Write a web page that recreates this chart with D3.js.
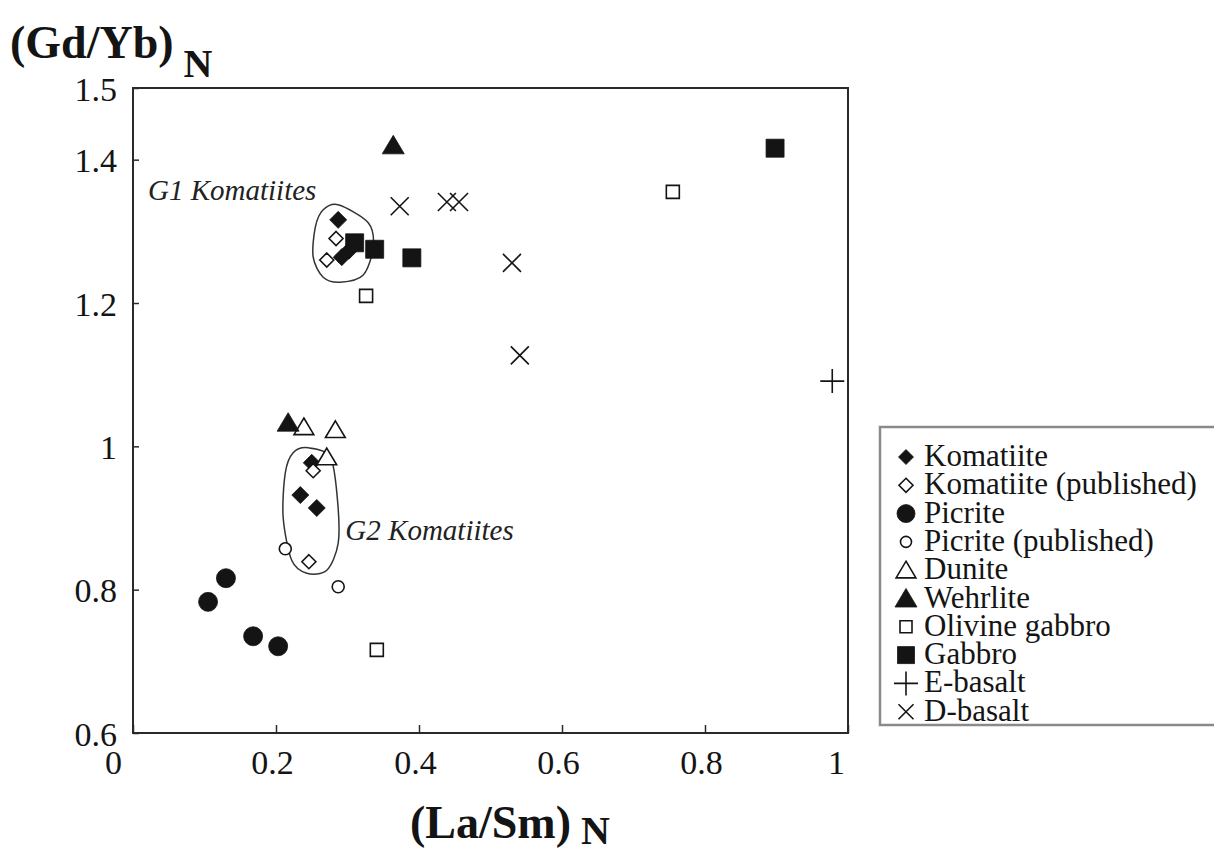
<!DOCTYPE html>
<html>
<head>
<meta charset="utf-8">
<script src="https://cdn.jsdelivr.net/npm/d3@7/dist/d3.min.js"></script>
<style>
  html, body { margin: 0; padding: 0; background: #fff; }
  svg { display: block; }
</style>
</head>
<body>
<svg id="chart" width="1214" height="855"></svg>
<script>
// ---------------- data ----------------
const xTicks = [0, 0.2, 0.4, 0.6, 0.8, 1];
const xTickLabels = ["0", "0.2", "0.4", "0.6", "0.8", "1"];
const yTicks = [0.6, 0.8, 1, 1.2, 1.4, 1.5];
const yTickLabels = ["0.6", "0.8", "1", "1.2", "1.4", "1.5"];

const komatiite = [[0.287, 1.316], [0.292, 1.264], [0.302, 1.273], [0.250, 0.977], [0.234, 0.932], [0.257, 0.914]];
const komatiitePub = [[0.284, 1.290], [0.271, 1.260], [0.252, 0.966], [0.246, 0.839]];
const picrite = [[0.130, 0.816], [0.105, 0.783], [0.168, 0.735], [0.203, 0.721]];
const picritePub = [[0.213, 0.857], [0.287, 0.804]];
const dunite = [[0.239, 1.027], [0.283, 1.023], [0.271, 0.985]];
const wehrlite = [[0.217, 1.033], [0.364, 1.420]];
const olivineGabbro = [[0.326, 1.210], [0.341, 0.716], [0.755, 1.355]];
const gabbro = [[0.310, 1.284], [0.338, 1.275], [0.390, 1.263], [0.898, 1.416]];
const eBasalt = [[0.978, 1.091]];
const dBasalt = [[0.373, 1.335], [0.439, 1.341], [0.456, 1.341], [0.530, 1.256], [0.541, 1.127]];

// hand-drawn outlines of the two komatiite groups (data coordinates)
const g1Outline = [[0.287, 1.337], [0.329, 1.312], [0.336, 1.278], [0.322, 1.239], [0.290, 1.229],
                   [0.266, 1.236], [0.252, 1.264], [0.255, 1.306], [0.266, 1.330]];
const g2Outline = [[0.245, 0.998], [0.276, 0.985], [0.286, 0.925], [0.287, 0.865], [0.271, 0.827],
                   [0.243, 0.823], [0.222, 0.841], [0.210, 0.901], [0.213, 0.963], [0.224, 0.991]];
const groupLabels = ["G1 Komatiites", "G2 Komatiites"];
const groupLabelAnchors = [[0.021, 1.344], [0.297, 0.869]];

const seriesNames = ["Komatiite", "Komatiite (published)", "Picrite", "Picrite (published)", "Dunite",
                     "Wehrlite", "Olivine gabbro", "Gabbro", "E-basalt", "D-basalt"];

// ---------------- layout ----------------
const plot = { left: 133, right: 848, top: 88, bottom: 733 };
const SERIF = '"Liberation Serif", Tinos, "Times New Roman", serif';

const x = d3.scaleLinear().domain([0, 1]).range([plot.left, plot.right]);
const y = d3.scaleLinear().domain([0.6, 1.5]).range([plot.bottom, plot.top]);

const svg = d3.select("#chart");
const ink = "#141414";

const series = [
  { name: seriesNames[0], data: komatiite,     shape: "diamond",  filled: true,  r: 8.5, lr: 7.5 },
  { name: seriesNames[1], data: komatiitePub,  shape: "diamond",  filled: false, r: 7,   lr: 7 },
  { name: seriesNames[2], data: picrite,       shape: "circle",   filled: true,  r: 9.5, lr: 9 },
  { name: seriesNames[3], data: picritePub,    shape: "circle",   filled: false, r: 6,   lr: 5.5 },
  { name: seriesNames[4], data: dunite,        shape: "triangle", filled: false, r: 9,   lr: 9 },
  { name: seriesNames[5], data: wehrlite,      shape: "triangle", filled: true,  r: 10,  lr: 10 },
  { name: seriesNames[6], data: olivineGabbro, shape: "square",   filled: false, r: 6.5, lr: 6 },
  { name: seriesNames[7], data: gabbro,        shape: "square",   filled: true,  r: 9,   lr: 8.5 },
  { name: seriesNames[8], data: eBasalt,       shape: "plus",     filled: false, r: 12,  lr: 12 },
  { name: seriesNames[9], data: dBasalt,       shape: "cross",    filled: false, r: 9,   lr: 7.5 }
];

function shapePath(shape, s) {
  switch (shape) {
    case "diamond":  return `M0,${-s}L${s},0L0,${s}L${-s},0Z`;
    case "circle":   return `M${s},0A${s},${s} 0 1 1 ${-s},0A${s},${s} 0 1 1 ${s},0Z`;
    case "triangle": return `M0,${-s}L${s * 1.1},${s * 0.85}L${-s * 1.1},${s * 0.85}Z`;
    case "square":   return `M${-s},${-s}H${s}V${s}H${-s}Z`;
    case "plus":     return `M${-s},0H${s}M0,${-s}V${s}`;
    case "cross":    return `M${-s},${-s}L${s},${s}M${s},${-s}L${-s},${s}`;
  }
}
function styleMark(sel, d) {
  sel.attr("fill", d.filled ? ink : (d.shape === "plus" || d.shape === "cross" ? "none" : "#fff"))
     .attr("stroke", ink)
     .attr("stroke-width", d.filled ? 0.8 : 1.6)
     .attr("stroke-linejoin", "miter");
}
function serif(sel, size) {
  return sel.style("font-family", SERIF).style("font-size", size + "px").style("fill", ink);
}

// ---------------- frame and axes ----------------
svg.append("rect")
  .attr("x", plot.left).attr("y", plot.top)
  .attr("width", plot.right - plot.left).attr("height", plot.bottom - plot.top)
  .attr("fill", "none").attr("stroke", "#2a2a2a").attr("stroke-width", 2);

const xAxis = d3.axisBottom(x).tickValues(xTicks).tickSize(-8).tickFormat((d, i) => xTickLabels[i]);
const gx = svg.append("g").attr("transform", `translate(0,${plot.bottom})`).call(xAxis);
gx.select(".domain").remove();
gx.selectAll(".tick line").attr("stroke", "#2a2a2a").attr("stroke-width", 1.5);
gx.selectAll(".tick text")
  .call(serif, 34)
  .attr("y", 17).attr("dy", "0.71em")
  .attr("dx", (d, i) => (i === 0 ? -20 : i === xTicks.length - 1 ? -12 : -4));

const yAxis = d3.axisLeft(y).tickValues(yTicks).tickSize(-6).tickFormat((d, i) => yTickLabels[i]);
const gy = svg.append("g").attr("transform", `translate(${plot.left},0)`).call(yAxis);
gy.select(".domain").remove();
gy.selectAll(".tick line").attr("stroke", "#2a2a2a").attr("stroke-width", 1.5);
gy.selectAll(".tick text")
  .call(serif, 34)
  .attr("x", -16).attr("dy", "0.36em");

// axis titles
const yTitle = svg.append("text").attr("x", 10).attr("y", 58)
  .call(serif, 46).style("font-weight", "bold");
yTitle.append("tspan").text("(Gd/Yb)");
yTitle.append("tspan").attr("dx", 10).attr("dy", 19).style("font-size", "40px").text("N");

const xTitle = svg.append("text").attr("x", 410).attr("y", 838)
  .call(serif, 46).style("font-weight", "bold");
xTitle.append("tspan").text("(La/Sm)");
xTitle.append("tspan").attr("dx", 10).attr("dy", 6).style("font-size", "40px").text("N");

// ---------------- group outlines ----------------
const outline = d3.line().x(d => x(d[0])).y(d => y(d[1])).curve(d3.curveCardinalClosed.tension(0.1));
[g1Outline, g2Outline].forEach(o => {
  svg.append("path").attr("d", outline(o))
    .attr("fill", "none").attr("stroke", "#333").attr("stroke-width", 1.5);
});
groupLabels.forEach((t, i) => {
  svg.append("text")
    .attr("x", x(groupLabelAnchors[i][0])).attr("y", y(groupLabelAnchors[i][1]))
    .call(serif, 29).style("font-style", "italic").style("fill", "#222").text(t);
});

// ---------------- points ----------------
series.forEach(s => {
  svg.append("g").selectAll("path").data(s.data).join("path")
    .attr("transform", d => `translate(${x(d[0])},${y(d[1])})`)
    .attr("d", shapePath(s.shape, s.r))
    .call(sel => styleMark(sel, s));
});

// ---------------- legend ----------------
const leg = { x: 880, y: 427, w: 345, h: 298, first: 457, step: 28.3, symX: 906, textX: 924 };
svg.append("rect").attr("x", leg.x).attr("y", leg.y).attr("width", leg.w).attr("height", leg.h)
  .attr("fill", "#fff").attr("stroke", "#8a8a8a").attr("stroke-width", 2.5);
const items = svg.append("g").selectAll("g").data(series).join("g")
  .attr("transform", (d, i) => `translate(0,${leg.first + i * leg.step})`);
items.append("path")
  .attr("transform", `translate(${leg.symX},0)`)
  .attr("d", d => shapePath(d.shape, d.lr))
  .each(function (d) { styleMark(d3.select(this), d); });
items.append("text").attr("x", leg.textX).attr("y", 9)
  .call(serif, 31).text(d => d.name);
</script>
</body>
</html>
